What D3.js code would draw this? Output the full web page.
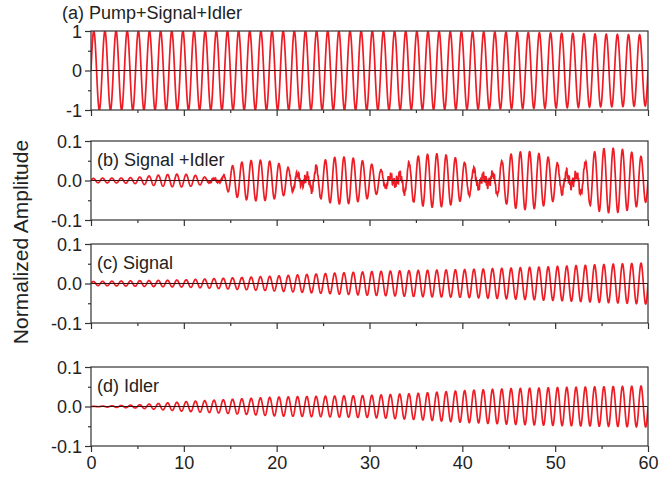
<!DOCTYPE html>
<html>
<head>
<meta charset="utf-8">
<script src="https://cdn.jsdelivr.net/npm/d3@7"></script>
<style>
  body { margin: 0; background: #fff; }
  text { font-family: "Liberation Sans", Arial, sans-serif; fill: #222; }
</style>
</head>
<body>
<svg id="chart"></svg>
<script>
const width = 663;
const height = 480;

// x axis
const xTicks = [0, 10, 20, 30, 40, 50, 60];
const xMinor = [5, 15, 25, 35, 45, 55];

// panel labels and y ticks
const panelTitles = ["(a) Pump+Signal+Idler", "(b) Signal +Idler", "(c) Signal", "(d) Idler"];
const yTicksA = [-1, 0, 1];
const yTicksSmall = [-0.1, 0.0, 0.1];

// envelopes, every 5 units of x (0..60)
const envX5 = [0, 5, 10, 15, 20, 25, 30, 35, 40, 45, 50, 55, 60];
const envA = [1, 1, 1, 1, 1, 1, 1, 0.99, 0.98, 0.97, 0.95, 0.92, 0.9];
const envC = [0.005, 0.007, 0.009, 0.014, 0.019, 0.025, 0.03, 0.033, 0.035, 0.039, 0.043, 0.048, 0.052];
const envD = [0, 0.004, 0.012, 0.018, 0.024, 0.026, 0.028, 0.033, 0.04, 0.045, 0.048, 0.05, 0.052];

// panel (b): beating envelope every 1 unit of x (0..60)
const envB = [0.005, 0.006, 0.006, 0.006, 0.007, 0.008, 0.011, 0.013, 0.015, 0.016,
              0.016, 0.014, 0.010, 0.004, 0.004, 0.035, 0.045, 0.050, 0.052, 0.050,
              0.045, 0.036, 0.022, 0.004, 0.030, 0.050, 0.058, 0.060, 0.058, 0.052,
              0.044, 0.032, 0.012, 0.006, 0.040, 0.060, 0.066, 0.068, 0.066, 0.060,
              0.050, 0.034, 0.012, 0.008, 0.045, 0.065, 0.072, 0.074, 0.070, 0.062,
              0.050, 0.025, 0.006, 0.040, 0.070, 0.080, 0.082, 0.080, 0.074, 0.064,
              0.052];
// fast jitter seen at the beat nodes of (b)
const jitterB = [0, 0, 0, 0, 0, 0, 0, 0, 0, 0,
                 0, 0, 0, 0.003, 0.004, 0, 0, 0, 0, 0,
                 0, 0, 0.008, 0.014, 0.010, 0, 0, 0, 0, 0,
                 0, 0, 0.010, 0.016, 0.006, 0, 0, 0, 0, 0,
                 0, 0.006, 0.014, 0.014, 0.004, 0, 0, 0, 0, 0,
                 0, 0.010, 0.016, 0.008, 0, 0, 0, 0, 0, 0,
                 0];
const envX1 = d3.range(0, 61);

// carrier periods (x units per cycle), counted off the picture
const periods = [1.2, 1.0, 1.0, 1.0];

// hyphen minus like the original figure
const locale = d3.formatLocale({ decimal: ".", thousands: ",", grouping: [3], currency: ["", ""], minus: "-" });

const panels = [
  { top: 31, title: panelTitles[0], domain: [-1, 1], ticks: yTicksA, minor: [-0.5, 0.5], fmt: locale.format("d"),
    env: d3.scaleLinear(envX5, envA), jit: null, period: periods[0], titleOutside: true },
  { top: 141, title: panelTitles[1], domain: [-0.1, 0.1], ticks: yTicksSmall, minor: [-0.05, 0.05], fmt: locale.format(".1f"),
    env: d3.scaleLinear(envX1, envB), jit: d3.scaleLinear(envX1, jitterB), period: periods[1] },
  { top: 244, title: panelTitles[2], domain: [-0.1, 0.1], ticks: yTicksSmall, minor: [-0.05, 0.05], fmt: locale.format(".1f"),
    env: d3.scaleLinear(envX5, envC), jit: null, period: periods[2] },
  { top: 367, title: panelTitles[3], domain: [-0.1, 0.1], ticks: yTicksSmall, minor: [-0.05, 0.05], fmt: locale.format(".1f"),
    env: d3.scaleLinear(envX5, envD), jit: null, period: periods[3] }
];

const left = 91, right = 648, panelH = 79;

const svg = d3.select("#chart")
  .attr("width", width)
  .attr("height", height);

const x = d3.scaleLinear().domain([0, 60]).range([left, right]);

const samples = d3.range(0, 60.0001, 0.02);

panels.forEach((p, i) => {
  const y = d3.scaleLinear().domain(p.domain).range([p.top + panelH, p.top]);
  const g = svg.append("g");

  const clipId = "clip" + i;
  g.append("clipPath").attr("id", clipId)
    .append("rect")
    .attr("x", left).attr("y", p.top)
    .attr("width", right - left).attr("height", panelH);

  // waveform
  const pts = samples.map(t => {
    let v = p.env(t) * Math.sin(2 * Math.PI * t / p.period);
    if (p.jit) v += p.jit(t) * (0.6 * Math.sin(2 * Math.PI * t / 0.13) + 0.4 * Math.sin(2 * Math.PI * t / 0.31));
    return [t, v];
  });
  g.append("path")
    .attr("clip-path", `url(#${clipId})`)
    .attr("d", d3.line().x(d => x(d[0])).y(d => y(d[1]))(pts))
    .attr("fill", "none")
    .attr("stroke", "#ee1c25")
    .attr("stroke-width", 1.7);

  // zero line
  g.append("line")
    .attr("x1", left).attr("x2", right)
    .attr("y1", y(0)).attr("y2", y(0))
    .attr("stroke", "#3a1010")
    .attr("stroke-width", 1);

  // frame
  g.append("rect")
    .attr("x", left).attr("y", p.top)
    .attr("width", right - left).attr("height", panelH)
    .attr("fill", "none")
    .attr("stroke", "#333")
    .attr("stroke-width", 1.2);

  // y axis
  const yAxis = g.append("g")
    .attr("transform", `translate(${left},0)`)
    .call(d3.axisLeft(y).tickValues(p.ticks).tickFormat(p.fmt).tickSize(6).tickPadding(3));
  yAxis.select(".domain").remove();
  yAxis.selectAll("text").style("font-size", "18px").attr("dy", "0.36em");
  yAxis.selectAll("line").attr("stroke", "#333").attr("stroke-width", 1.2);
  g.append("g")
    .attr("transform", `translate(${left},0)`)
    .call(d3.axisLeft(y).tickValues(p.minor).tickFormat("").tickSize(3))
    .call(a => a.select(".domain").remove())
    .selectAll("line").attr("stroke", "#333").attr("stroke-width", 1.2);

  // x axis
  const xAxis = g.append("g")
    .attr("transform", `translate(0,${p.top + panelH})`)
    .call(d3.axisBottom(x).tickValues(xTicks).tickSize(6).tickPadding(4)
      .tickFormat(i === panels.length - 1 ? d3.format("d") : ""));
  xAxis.select(".domain").remove();
  xAxis.selectAll("text").style("font-size", "18px");
  xAxis.selectAll("line").attr("stroke", "#333").attr("stroke-width", 1.2);
  g.append("g")
    .attr("transform", `translate(0,${p.top + panelH})`)
    .call(d3.axisBottom(x).tickValues(xMinor).tickFormat("").tickSize(3))
    .call(a => a.select(".domain").remove())
    .selectAll("line").attr("stroke", "#333").attr("stroke-width", 1.2);

  // panel title
  g.append("text")
    .attr("x", p.titleOutside ? 62 : 97)
    .attr("y", p.titleOutside ? 19 : p.top + 25)
    .style("font-size", "18px")
    .text(p.title);
});

// shared y title
svg.append("text")
  .attr("transform", `translate(28,242) rotate(-90)`)
  .attr("text-anchor", "middle")
  .style("font-size", "21px")
  .text("Normalized Amplitude");
</script>
</body>
</html>
